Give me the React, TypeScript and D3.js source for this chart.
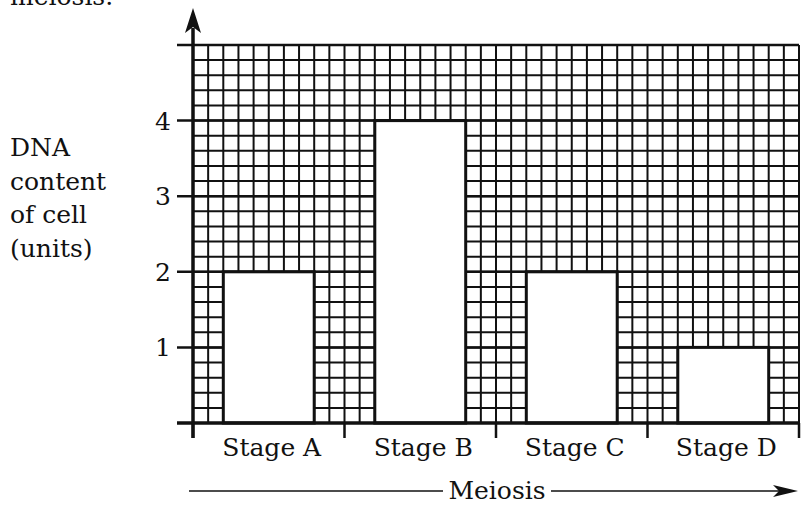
import * as d3 from "d3";

const stages = ["Stage A", "Stage B", "Stage C", "Stage D"];
const dnaContent = [2, 4, 2, 1];
const yTicks = [1, 2, 3, 4];
const yTitleLines = ["DNA", "content", "of cell", "(units)"];
const xTitle = "Meiosis";
const captionTail = "meiosis.";

const W = 803;
const H = 506;
const FONT = "'DejaVu Serif', 'Liberation Serif', serif";

export default function App() {
  const left = 193;
  const right = 799;
  const base = 423;
  const top = 45;

  // y scale: 0..5 units, 5 minor cells per unit
  const y = d3.scaleLinear().domain([0, 5]).range([base, top]);
  // stage bands (no padding) and bars inside them
  const xStage = d3.scaleBand<string>().domain(stages).range([left, right]).padding(0);
  const xBar = d3
    .scaleBand<string>()
    .domain(stages)
    .range([left, right])
    .paddingInner(0.4)
    .paddingOuter(0.2);
  // grid cells across: 10 per stage
  const xCell = d3.scaleLinear().domain([0, stages.length * 10]).range([left, right]);

  const vLines = d3.range(0, stages.length * 10 + 1).map((i) => xCell(i));
  const hLines = y.ticks(25).map((v) => y(v));
  const boundaries = stages.map((s) => xStage(s)!).concat([right]);

  const arrowY = 491;

  return (
    <svg
      width={W}
      height={H}
      viewBox={`0 0 ${W} ${H}`}
      style={{ position: "absolute", left: 0, top: 0, background: "#fff" }}
    >
      <rect width={W} height={H} fill="#fff" />
      {/* cut off caption from the page above */}
      <text x={10} y={5} fontFamily={FONT} fontSize={25} fill="#111">
        {captionTail}
      </text>

      {/* grid */}
      <g stroke="#111" strokeWidth={2}>
        {vLines.map((x, i) => (
          <line key={"v" + i} x1={x} x2={x} y1={top} y2={base} />
        ))}
        {hLines.map((yy, i) => (
          <line key={"h" + i} x1={left} x2={right} y1={yy} y2={yy} />
        ))}
      </g>

      {/* top line & unit ticks extend left */}
      <g stroke="#111" strokeWidth={2.5}>
        <line x1={177} x2={right} y1={top} y2={top} />
        {yTicks.map((t) => (
          <line key={t} x1={177} x2={right} y1={y(t)} y2={y(t)} />
        ))}
      </g>

      {/* bars */}
      {stages.map((s, i) => (
        <rect
          key={s}
          x={xBar(s)}
          y={y(dnaContent[i])}
          width={xBar.bandwidth()}
          height={base - y(dnaContent[i])}
          fill="#fff"
          stroke="#111"
          strokeWidth={3}
        />
      ))}

      {/* stage boundary ticks */}
      <g stroke="#111" strokeWidth={2.5}>
        {boundaries.map((x, i) => (
          <line key={i} x1={x} x2={x} y1={base} y2={base + 15} />
        ))}
      </g>

      {/* axes */}
      <line x1={177} x2={right + 1} y1={base} y2={base} stroke="#111" strokeWidth={3.5} />
      <line x1={left} x2={left} y1={base + 15} y2={28} stroke="#111" strokeWidth={3.5} />
      <path
        d={`M${left},8 L${left - 8},33 L${left},27 L${left + 8},33 Z`}
        fill="#111"
      />

      {/* y tick labels */}
      {yTicks.map((t) => (
        <text
          key={t}
          x={171}
          y={y(t) + 9}
          textAnchor="end"
          fontFamily={FONT}
          fontSize={25}
          fill="#111"
        >
          {t}
        </text>
      ))}

      {/* y title */}
      {yTitleLines.map((l, i) => (
        <text key={l} x={10} y={156 + i * 33.5} fontFamily={FONT} fontSize={25} fill="#111">
          {l}
        </text>
      ))}

      {/* stage labels */}
      {stages.map((s) => (
        <text
          key={s}
          x={xStage(s)! + xStage.bandwidth() / 2 + 3}
          y={456}
          textAnchor="middle"
          fontFamily={FONT}
          fontSize={25}
          fill="#111"
        >
          {s}
        </text>
      ))}

      {/* Meiosis arrow */}
      <g stroke="#111" strokeWidth={1.6}>
        <line x1={189} x2={443} y1={arrowY} y2={arrowY} />
        <line x1={551} x2={780} y1={arrowY} y2={arrowY} />
      </g>
      <path
        d={`M798,${arrowY} L773,${arrowY - 6} L779,${arrowY} L773,${arrowY + 6} Z`}
        fill="#111"
      />
      <text
        x={497}
        y={499}
        textAnchor="middle"
        fontFamily={FONT}
        fontSize={25}
        fill="#111"
      >
        {xTitle}
      </text>
    </svg>
  );
}
